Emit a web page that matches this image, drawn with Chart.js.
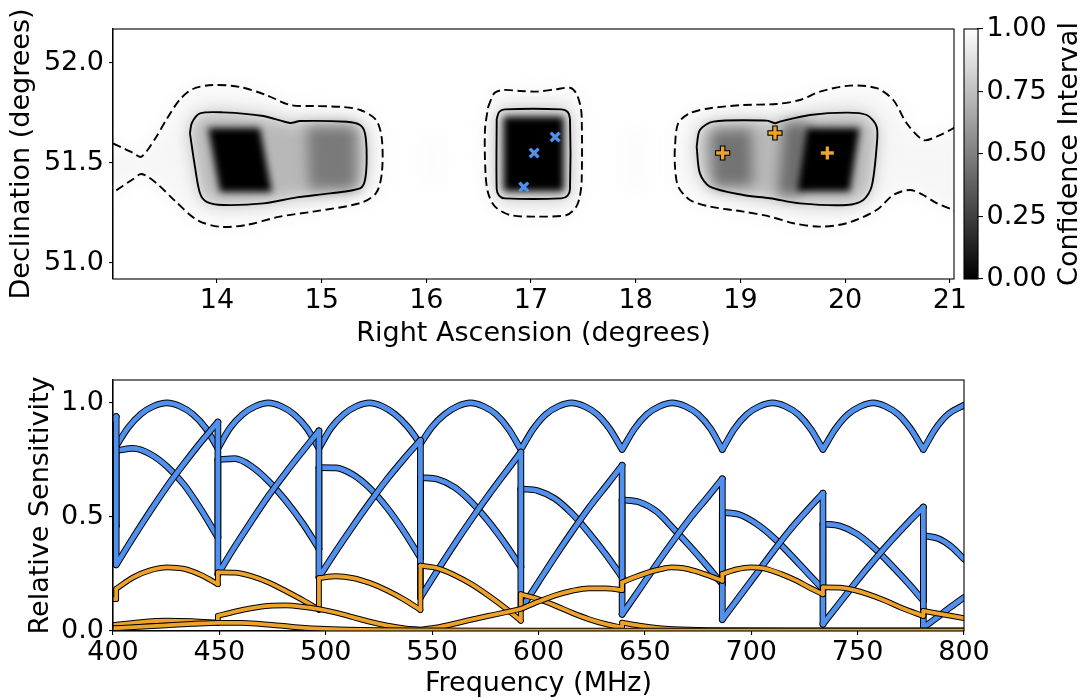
<!DOCTYPE html>
<html>
<head>
<meta charset="utf-8">
<script src="https://cdn.jsdelivr.net/npm/chart.js@4.4.1/dist/chart.umd.min.js"></script>
<style>
  html, body { margin: 0; padding: 0; background: #fff; width: 1081px; height: 698px; overflow: hidden; }
  canvas { position: absolute; }
  #sky { left: 0; top: 0; }
  #cbar { left: 940px; top: 0; }
  #beam { left: 0; top: 345px; }
</style>
</head>
<body>
<canvas id="sky" width="974" height="350"></canvas>
<canvas id="cbar" width="141" height="350"></canvas>
<canvas id="beam" width="994" height="360"></canvas>
<script>
/* ---------- sky map ---------- */
const raTicks = [14, 15, 16, 17, 18, 19, 20, 21];
const decTicks = [51.0, 51.5, 52.0];
const ciTicks = [0, 0.25, 0.5, 0.75, 1];

// source positions
const blueRA = [16.93, 17.03, 17.23];
const blueDec = [51.38, 51.55, 51.63];
const orangeRA = [18.83, 19.33, 19.83];
const orangeDec = [51.55, 51.65, 51.55];

// outer (dashed) contours, [ra, dec]
const leftDashed = [[12.9,51.63],[13.0,51.60],[13.1,51.575],[13.2,51.55],[13.27,51.53],[13.33,51.56],[13.42,51.63],[13.52,51.72],[13.65,51.82],[13.77,51.87],[13.96,51.89],[14.22,51.88],[14.47,51.84],[14.70,51.79],[14.92,51.785],[15.2,51.78],[15.37,51.765],[15.52,51.715],[15.575,51.62],[15.575,51.45],[15.52,51.35],[15.37,51.30],[14.92,51.257],[14.60,51.232],[14.28,51.19],[14.03,51.181],[13.81,51.215],[13.60,51.31],[13.42,51.40],[13.28,51.445],[13.2,51.42],[13.1,51.385],[13.0,51.35],[12.9,51.32]];
const midDashed = [[16.59,51.78],[16.65,51.85],[16.735,51.865],[16.9,51.86],[17.054,51.857],[17.245,51.869],[17.372,51.876],[17.43,51.85],[17.47,51.79],[17.484,51.73],[17.484,51.415],[17.465,51.33],[17.43,51.28],[17.34,51.24],[17.054,51.232],[16.8,51.24],[16.656,51.282],[16.59,51.35],[16.565,51.45],[16.56,51.665],[16.59,51.78]];
const rightDashed = [[21.15,51.72],[21.033,51.674],[20.874,51.632],[20.746,51.615],[20.588,51.699],[20.46,51.815],[20.301,51.874],[20.046,51.887],[19.76,51.857],[19.569,51.815],[19.346,51.795],[19.027,51.79],[18.709,51.774],[18.518,51.749],[18.406,51.699],[18.375,51.582],[18.375,51.482],[18.406,51.382],[18.518,51.315],[18.709,51.282],[19.027,51.257],[19.282,51.232],[19.505,51.199],[19.76,51.182],[20.015,51.199],[20.301,51.265],[20.46,51.34],[20.619,51.365],[20.746,51.34],[20.874,51.299],[21.033,51.265],[21.15,51.23]];

// inner (solid) contours
const leftSolid = [[13.742,51.648],[13.76,51.70],[13.838,51.748],[14.06,51.753],[14.443,51.735],[14.698,51.70],[14.793,51.71],[15.239,51.706],[15.366,51.69],[15.414,51.648],[15.43,51.53],[15.414,51.415],[15.366,51.373],[15.08,51.348],[14.762,51.328],[14.443,51.298],[14.06,51.29],[13.902,51.306],[13.838,51.349],[13.79,51.481],[13.742,51.648]];
const midSolid = [[16.672,51.72],[16.695,51.755],[16.75,51.768],[17.29,51.768],[17.35,51.755],[17.372,51.72],[17.372,51.37],[17.35,51.337],[17.29,51.323],[16.75,51.323],[16.695,51.337],[16.672,51.37],[16.672,51.72]];
const rightSolid = [[18.582,51.582],[18.613,51.665],[18.74,51.707],[19.25,51.712],[19.33,51.699],[19.377,51.707],[19.664,51.74],[20.015,51.752],[20.206,51.74],[20.301,51.682],[20.301,51.582],[20.253,51.382],[20.173,51.315],[20.015,51.29],[19.569,51.298],[19.282,51.324],[19.027,51.34],[18.708,51.382],[18.613,51.448],[18.582,51.582]];

// confidence inside each contour family
const dashedLevel = 0.965;
const solidLevel = 0.72;

// shaded regions inside the contours
const faintPatches = [
  { level: 0.985, pts: [[15.95,51.65],[16.15,51.65],[16.15,51.38],[15.95,51.38]] },
  { level: 0.985, pts: [[17.88,51.68],[18.1,51.68],[18.1,51.35],[17.88,51.35]] }
];
const greyPatches = [
  { level: 0.48, pts: [[14.86,51.68],[15.33,51.68],[15.33,51.37],[14.88,51.37]] },
  { level: 0.45, pts: [[18.72,51.66],[19.1,51.67],[19.12,51.39],[18.74,51.38]] },
  { level: 0.42, pts: [[19.42,51.70],[19.66,51.70],[19.56,51.34],[19.36,51.34]] }
];
const corePatches = [
  [[13.915,51.675],[14.41,51.675],[14.525,51.355],[14.03,51.355]],
  [[16.74,51.73],[17.31,51.73],[17.31,51.36],[16.74,51.36]],
  [[19.63,51.675],[20.14,51.675],[20.045,51.357],[19.537,51.357]]
];

/* ---------- beam sensitivity ---------- */
const freqTicks = [400, 450, 500, 550, 600, 650, 700, 750, 800];
const sensTicks = [0, 0.5, 1.0];

// each beam is a list of continuous pieces, [MHz, sensitivity]
const blueBeamA = [
  [[400,0.85],[401.5,0.81]],
  [[401.5,0.81],[407,0.89],[413,0.95],[419,0.985],[425.4,1.0],[431.5,0.985],[437.5,0.95],[443.5,0.89],[449.3,0.80]],
  [[449.3,0.80],[455,0.89],[461,0.95],[467,0.985],[473,1.0],[479,0.985],[485,0.95],[491,0.89],[496.8,0.80]],
  [[496.8,0.80],[502.5,0.89],[508.5,0.95],[514.5,0.985],[520.6,1.0],[526.5,0.985],[532.5,0.95],[538.5,0.895],[544.5,0.82]],
  [[544.5,0.82],[550,0.895],[556,0.95],[562,0.985],[568.1,1.0],[574,0.985],[580,0.95],[586,0.885],[591.7,0.795]],
  [[591.7,0.795],[597.5,0.885],[603.5,0.95],[609.5,0.985],[615.5,1.0],[621.5,0.985],[627.5,0.95],[633.5,0.885],[639.3,0.795]],
  [[639.3,0.795],[645,0.885],[651,0.95],[657,0.985],[662.8,1.0],[669,0.985],[675,0.95],[681,0.885],[686.4,0.795]],
  [[686.4,0.795],[692,0.885],[698,0.95],[704,0.985],[710,1.0],[716,0.985],[722,0.95],[728,0.885],[733.7,0.795]],
  [[733.7,0.795],[739.5,0.885],[745.5,0.95],[751.5,0.985],[757.3,1.0],[763,0.985],[769,0.95],[775,0.885],[780.9,0.795]],
  [[780.9,0.795],[786.5,0.885],[792.5,0.95],[800,0.99]]
];
const blueBeamB = [
  [[400,0.52],[401.5,0.46]],
  [[401.5,0.79],[409.5,0.80],[417.5,0.775],[425.5,0.72],[433.5,0.64],[441.5,0.53],[449.3,0.41]],
  [[449.3,0.751],[457.3,0.755],[465.3,0.72],[473.3,0.655],[481.3,0.57],[489.3,0.47],[496.8,0.36]],
  [[496.8,0.716],[504.8,0.715],[512.8,0.685],[520.8,0.625],[528.8,0.54],[536.8,0.435],[544.5,0.32]],
  [[544.5,0.672],[552.5,0.665],[560.5,0.63],[568.5,0.565],[576.5,0.48],[584.5,0.38],[591.7,0.28]],
  [[591.7,0.623],[599.7,0.615],[607.7,0.58],[615.7,0.515],[623.7,0.43],[631.7,0.335],[639.3,0.235]],
  [[639.3,0.575],[647.3,0.565],[655.3,0.525],[663.3,0.45],[671.3,0.37],[679.3,0.285],[686.4,0.205]],
  [[686.4,0.52],[694.4,0.51],[702.4,0.47],[710.4,0.41],[718.4,0.335],[726.4,0.255],[733.7,0.183]],
  [[733.7,0.469],[741.7,0.46],[749.7,0.425],[757.7,0.365],[765.7,0.29],[773.7,0.21],[780.9,0.132]],
  [[780.9,0.418],[788,0.405],[794,0.37],[800,0.315]]
];
const blueBeamC = [
  [[400,0.93],[401.5,0.94]],
  [[401.5,0.29],[409.5,0.41],[417.5,0.525],[425.5,0.635],[433.5,0.735],[441.5,0.83],[449.3,0.916]],
  [[449.3,0.249],[457.3,0.37],[465.3,0.485],[473.3,0.595],[481.3,0.695],[489.3,0.79],[496.8,0.877]],
  [[496.8,0.235],[504.8,0.35],[512.8,0.46],[520.8,0.565],[528.8,0.665],[536.8,0.755],[544.5,0.836]],
  [[544.5,0.147],[552.5,0.265],[560.5,0.38],[568.5,0.49],[576.5,0.595],[584.5,0.695],[591.7,0.784]],
  [[591.7,0.095],[599.7,0.21],[607.7,0.325],[615.7,0.435],[623.7,0.54],[631.7,0.635],[639.3,0.726]],
  [[639.3,0.073],[647.3,0.18],[655.3,0.29],[663.3,0.395],[671.3,0.495],[679.3,0.585],[686.4,0.667]],
  [[686.4,0.05],[694.4,0.15],[702.4,0.25],[710.4,0.35],[718.4,0.445],[726.4,0.53],[733.7,0.604]],
  [[733.7,0.03],[741.7,0.125],[749.7,0.22],[757.7,0.31],[765.7,0.395],[773.7,0.475],[780.9,0.543]],
  [[780.9,0.015],[786,0.05],[793,0.1],[800,0.147]]
];
const orangeBeamA = [
  [[400,0.14],[401.5,0.14]],
  [[401.5,0.185],[409.5,0.235],[417.5,0.266],[425.5,0.279],[433.5,0.272],[441.5,0.245],[449.3,0.205]],
  [[449.3,0.257],[457.3,0.256],[465.3,0.24],[473.3,0.212],[481.3,0.175],[489.3,0.135],[496.8,0.093]],
  [[496.8,0.232],[504.8,0.24],[512.8,0.232],[520.8,0.21],[528.8,0.178],[536.8,0.138],[544.5,0.092]],
  [[544.5,0.286],[552.5,0.275],[560.5,0.245],[568.5,0.205],[576.5,0.155],[584.5,0.1],[591.7,0.045]],
  [[591.7,0.161],[599.7,0.14],[607.7,0.112],[615.7,0.08],[623.7,0.052],[631.7,0.03],[639.3,0.015]],
  [[639.3,0.037],[647.3,0.024],[655.3,0.014],[663.3,0.008],[680,0.004],[720,0.003],[800,0.003]]
];
const orangeBeamB = [
  [[400,0.026],[412,0.038],[425,0.045],[437,0.043],[449.3,0.036]],
  [[449.3,0.066],[457.3,0.085],[465.3,0.1],[473.3,0.11],[481.3,0.112],[489.3,0.106],[496.8,0.096],[505,0.08],[513,0.06],[521,0.04],[529,0.024],[537,0.012],[544.5,0.006]],
  [[544.5,0.006],[552.5,0.016],[560.5,0.032],[568.5,0.05],[576.5,0.066],[584.5,0.082],[591.7,0.097]],
  [[591.7,0.097],[599.7,0.128],[607.7,0.156],[615.7,0.176],[623.7,0.187],[631.7,0.187],[639.3,0.179]],
  [[639.3,0.213],[645,0.235],[651,0.255],[657,0.27],[662.5,0.279],[668,0.276],[674,0.262],[680,0.243],[686.4,0.22]],
  [[686.4,0.25],[693,0.27],[699.7,0.279],[706,0.274],[714,0.25],[721,0.222],[727,0.192],[733.7,0.161]],
  [[733.7,0.191],[741.7,0.19],[748,0.18],[755,0.161],[763,0.133],[771,0.1],[780.9,0.066]],
  [[780.9,0.088],[790,0.073],[800,0.056]]
];
const orangeBeamC = [
  [[400,0.012],[412,0.018],[425,0.025],[437,0.031],[449.3,0.036],[460,0.036],[470,0.03],[480,0.022],[490,0.014],[497,0.01],[510,0.006],[525,0.004],[544.5,0.003],[600,0.002],[700,0.002],[800,0.002]]
];

const blue = '#5091ef';
const orange = '#eda22b';

Chart.defaults.font.family = "'DejaVu Sans', sans-serif";
Chart.defaults.font.size = 27;
Chart.defaults.color = '#000';

const grey = level => { const g = Math.round(255 * level); return `rgb(${g},${g},${g})`; };
const setTicks = list => axis => { axis.ticks = list.map(v => ({ value: v })); };

// box around the plotting area
const framePlugin = {
  id: 'frame',
  afterDraw(chart) {
    const { ctx, chartArea: a } = chart;
    ctx.save();
    ctx.strokeStyle = '#000';
    ctx.lineWidth = 1.1;
    ctx.strokeRect(a.left, a.top, a.right - a.left, a.bottom - a.top);
    ctx.restore();
  }
};

// smooth grey-scale confidence map painted under the contours
const heatPlugin = {
  id: 'heat',
  beforeDatasetsDraw(chart) {
    const { ctx, chartArea: a, scales: { x, y } } = chart;
    const trace = pts => {
      ctx.beginPath();
      pts.forEach(([ra, dec], i) => {
        const px = x.getPixelForValue(ra), py = y.getPixelForValue(dec);
        if (i) ctx.lineTo(px, py); else ctx.moveTo(px, py);
      });
      ctx.closePath();
      ctx.fill();
    };
    ctx.save();
    ctx.beginPath();
    ctx.rect(a.left, a.top, a.right - a.left, a.bottom - a.top);
    ctx.clip();
    ctx.fillStyle = '#fff';
    ctx.fillRect(a.left, a.top, a.right - a.left, a.bottom - a.top);

    ctx.filter = 'blur(10px)';
    faintPatches.forEach(p => { ctx.fillStyle = grey(p.level); trace(p.pts); });
    ctx.fillStyle = grey(dashedLevel);
    [leftDashed, midDashed, rightDashed].forEach(trace);

    ctx.filter = 'blur(8px)';
    ctx.fillStyle = grey(solidLevel);
    [leftSolid, midSolid, rightSolid].forEach(trace);

    ctx.filter = 'blur(6.5px)';
    greyPatches.forEach(p => { ctx.fillStyle = grey(p.level); trace(p.pts); });

    ctx.filter = 'blur(3.5px)';
    ctx.fillStyle = grey(0);
    corePatches.forEach(trace);
    ctx.restore();
  }
};

const toXY = (ra, dec) => ra.map((r, i) => ({ x: r, y: dec[i] }));
const toPts = pts => pts.map(([ra, dec]) => ({ x: ra, y: dec }));
const contourSet = (pts, dashed) => ({
  data: toPts(pts), showLine: true, pointRadius: 0, tension: 0.3,
  borderColor: '#000', borderWidth: 1.9, borderDash: dashed ? [8.5, 4.5] : []
});

const skySets = [
  contourSet(leftDashed, true), contourSet(midDashed, true), contourSet(rightDashed, true),
  contourSet(leftSolid, false), contourSet(midSolid, false), contourSet(rightSolid, false),
  { data: toXY(blueRA, blueDec), pointStyle: 'crossRot', pointRadius: 6.2, pointBorderWidth: 3.4, pointBorderColor: blue },
  { data: toXY(orangeRA, orangeDec), pointStyle: 'cross', pointRadius: 7.6, pointBorderWidth: 5.6, pointBorderColor: '#000' },
  { data: toXY(orangeRA, orangeDec), pointStyle: 'cross', pointRadius: 6.5, pointBorderWidth: 3.3, pointBorderColor: orange }
];
// first in the list is painted first
skySets.forEach((d, i) => { d.order = skySets.length - i; });

const axisGrid = len => ({ drawOnChartArea: false, drawTicks: true, tickLength: len, color: '#000', lineWidth: 1.1 });

new Chart(document.getElementById('sky'), {
  type: 'scatter',
  data: { datasets: skySets },
  options: {
    responsive: false, animation: false, events: [],
    layout: { padding: { left: 0, top: 29, right: 20, bottom: 0 } },
    plugins: { legend: { display: false }, tooltip: { enabled: false } },
    scales: {
      x: {
        type: 'linear', min: 13.007, max: 21.04,
        afterBuildTicks: setTicks(raTicks),
        afterFit: s => { s.height = 71; },
        ticks: { padding: 2, callback: v => String(v) },
        grid: axisGrid(4), border: { color: '#000', width: 1.1 },
        title: { display: true, text: 'Right Ascension (degrees)', padding: { top: 0, bottom: 0 } }
      },
      y: {
        min: 50.92, max: 52.17,
        afterBuildTicks: setTicks(decTicks),
        afterFit: s => { s.width = 113; },
        ticks: { padding: 5, callback: v => v.toFixed(1) },
        grid: axisGrid(4), border: { color: '#000', width: 1.1 },
        title: { display: true, text: 'Declination (degrees)', padding: { top: 5.3, bottom: 0 } }
      }
    }
  },
  plugins: [heatPlugin, framePlugin]
});

// colour scale beside the map
const colorbarPlugin = {
  id: 'colorbar',
  afterDatasetsDraw(chart) {
    const { ctx, chartArea: a } = chart;
    const g = ctx.createLinearGradient(0, a.bottom, 0, a.top);
    g.addColorStop(0, grey(ciTicks[0]));
    g.addColorStop(1, grey(ciTicks[ciTicks.length - 1]));
    ctx.save();
    ctx.fillStyle = g;
    ctx.fillRect(a.left, a.top, a.right - a.left, a.bottom - a.top);
    ctx.translate(chart.width - 4, (a.top + a.bottom) / 2);
    ctx.rotate(-Math.PI / 2);
    ctx.font = "27px 'DejaVu Sans'";
    ctx.fillStyle = '#000';
    ctx.textAlign = 'center';
    ctx.textBaseline = 'alphabetic';
    ctx.fillText('Confidence Interval', 0, 0);
    ctx.restore();
  }
};

new Chart(document.getElementById('cbar'), {
  type: 'scatter',
  data: { datasets: [] },
  options: {
    responsive: false, animation: false, events: [],
    layout: { padding: { left: 24, top: 29, right: 0, bottom: 71 } },
    plugins: { legend: { display: false }, tooltip: { enabled: false } },
    scales: {
      x: { display: false },
      y: {
        position: 'right', min: 0, max: 1,
        afterBuildTicks: setTicks(ciTicks),
        afterFit: s => { s.width = 103; },
        ticks: { padding: 3.5, callback: v => v.toFixed(2) },
        grid: axisGrid(5), border: { color: '#000', width: 1.1 }
      }
    }
  },
  plugins: [colorbarPlugin, framePlugin]
});

/* ---------- beam sensitivity chart ---------- */
const beams = [
  { segs: blueBeamA, colour: blue, width: 4.7 },
  { segs: blueBeamB, colour: blue, width: 4.7 },
  { segs: blueBeamC, colour: blue, width: 4.7 },
  { segs: orangeBeamA, colour: orange, width: 3.8 },
  { segs: orangeBeamB, colour: orange, width: 3.8 },
  { segs: orangeBeamC, colour: orange, width: 3.8 }
];

const beamSets = [];
beams.forEach(b => {
  const line = [], jumps = [];
  b.segs.forEach((seg, i) => {
    if (i > 0) {
      const prev = b.segs[i - 1][b.segs[i - 1].length - 1];
      line.push({ x: prev[0], y: null });
      if (prev[1] !== seg[0][1]) {
        jumps.push({ x: prev[0], y: prev[1] }, { x: seg[0][0], y: seg[0][1] }, { x: seg[0][0], y: null });
      }
    }
    seg.forEach(([f, v]) => line.push({ x: f, y: v }));
  });
  // dark edge under the coloured stroke
  [['#000', b.width + 2], [b.colour, b.width]].forEach(([c, w]) => {
    beamSets.push({ data: line, borderColor: c, borderWidth: w, cubicInterpolationMode: 'monotone' });
    beamSets.push({ data: jumps, borderColor: c, borderWidth: w, tension: 0 });
  });
});
beamSets.forEach((d, i) => {
  Object.assign(d, { order: beamSets.length - i, pointRadius: 0, fill: false, spanGaps: false,
    borderCapStyle: 'round', borderJoinStyle: 'round' });
});

new Chart(document.getElementById('beam'), {
  type: 'line',
  data: { datasets: beamSets },
  options: {
    responsive: false, animation: false, events: [],
    layout: { padding: { left: 0, top: 35, right: 30, bottom: 0 } },
    plugins: { legend: { display: false }, tooltip: { enabled: false } },
    scales: {
      x: {
        type: 'linear', min: 400, max: 800,
        afterBuildTicks: setTicks(freqTicks),
        afterFit: s => { s.height = 74; },
        ticks: { padding: 2, callback: v => String(v) },
        grid: axisGrid(4), border: { color: '#000', width: 1.1 },
        title: { display: true, text: 'Frequency (MHz)', padding: { top: 0, bottom: 5 } }
      },
      y: {
        min: 0, max: 1.1,
        afterBuildTicks: setTicks(sensTicks),
        afterFit: s => { s.width = 113; },
        ticks: { padding: 5, callback: v => v.toFixed(1) },
        grid: axisGrid(4), border: { color: '#000', width: 1.1 },
        title: { display: true, text: 'Relative Sensitivity', padding: { top: 25, bottom: 0 } }
      }
    }
  },
  plugins: [framePlugin]
});
</script>
</body>
</html>
